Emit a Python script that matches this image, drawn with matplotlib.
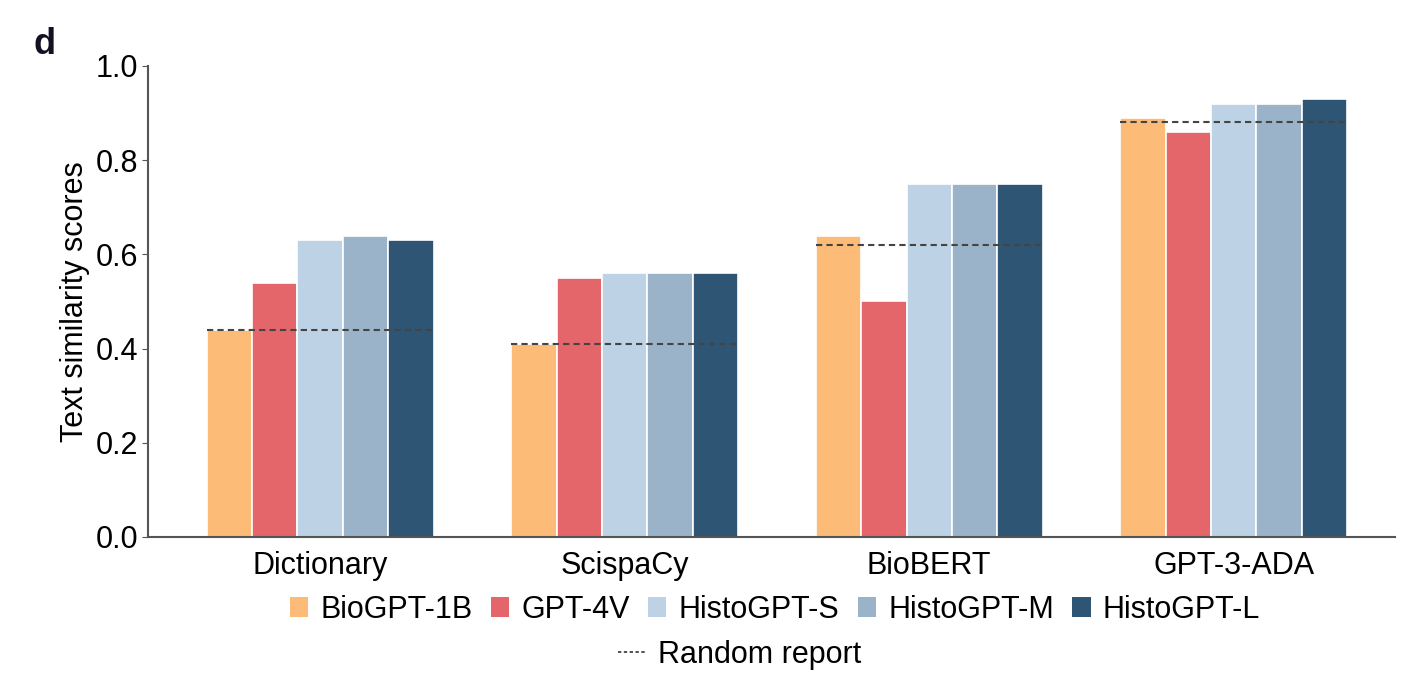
import numpy as np
from matplotlib import pyplot as plt
from matplotlib.patches import Patch
from matplotlib.lines import Line2D

plt.rcParams['font.family'] = ['Liberation Sans', 'DejaVu Sans']

METHODS = ['Dictionary', 'ScispaCy', 'BioBERT', 'GPT-3-ADA']
MODELS = ['BioGPT-1B', 'GPT-4V', 'HistoGPT-S', 'HistoGPT-M', 'HistoGPT-L']
COLORS = ['#FDBB78', '#E4666A', '#BDD2E4', '#9AB3C8', '#2E5574']

BIOGPT_1B = [0.44, 0.41, 0.64, 0.89]
GPT_4V = [0.54, 0.55, 0.50, 0.86]
HISTOGPT_S = [0.63, 0.56, 0.75, 0.92]
HISTOGPT_M = [0.64, 0.56, 0.75, 0.92]
HISTOGPT_L = [0.63, 0.56, 0.75, 0.93]
RANDOM_REPORT = [0.44, 0.41, 0.62, 0.88]

scores = [BIOGPT_1B, GPT_4V, HISTOGPT_S, HISTOGPT_M, HISTOGPT_L]
FS = 22

fig = plt.figure(figsize=(14.14, 6.8), dpi=100)
ax = fig.add_axes([0.1047, 0.2103, 0.882, 0.6927])

x = np.arange(len(METHODS))
width = 0.149
offsets = (np.arange(len(MODELS)) - 2) * width
for vals, off, col in zip(scores, offsets, COLORS):
    ax.bar(x + off, vals, width=width, color=col, edgecolor='white', linewidth=1.2)

# random report baseline across each group
half = 2.5 * width
for xi, r in zip(x, RANDOM_REPORT):
    ax.plot([xi - half, xi + half], [r, r], ls=(0, (3, 2)), color='#444444', lw=1.5)

ax.set_xlim(-0.565, 3.53)
ax.set_ylim(0, 1.0)
ax.set_yticks([0.0, 0.2, 0.4, 0.6, 0.8, 1.0])
ax.set_yticklabels(['0.0', '0.2', '0.4', '0.6', '0.8', '1.0'])
ax.set_xticks(x)
ax.set_xticklabels(METHODS)
ax.tick_params(axis='y', labelsize=FS, length=4, color='#555555', pad=3)
ax.tick_params(axis='x', labelsize=FS, length=0, pad=10)
ax.set_ylabel('Text similarity scores', fontsize=FS, labelpad=4)

for side in ['top', 'right']:
    ax.spines[side].set_visible(False)
for side in ['left', 'bottom']:
    ax.spines[side].set_color('#555555')
    ax.spines[side].set_linewidth(1.5)

handles = [Patch(facecolor=c, edgecolor='none') for c in COLORS]
fig.legend(handles, MODELS, loc='center', bbox_to_anchor=(0.548, 0.103), ncol=5,
           frameon=False, fontsize=FS, handlelength=0.6, handleheight=0.6,
           handletextpad=0.4, columnspacing=0.6)
line = Line2D([0], [0], color='#333333', ls=(0, (2, 1.5)), lw=1.2)
fig.legend([line], ['Random report'], loc='center', bbox_to_anchor=(0.523, 0.037),
           frameon=False, fontsize=FS, handlelength=0.9, handletextpad=0.4)

fig.text(0.024, 0.92, 'd', fontsize=26, fontweight='bold', color='#111122')

plt.savefig('out.png', dpi=100)
